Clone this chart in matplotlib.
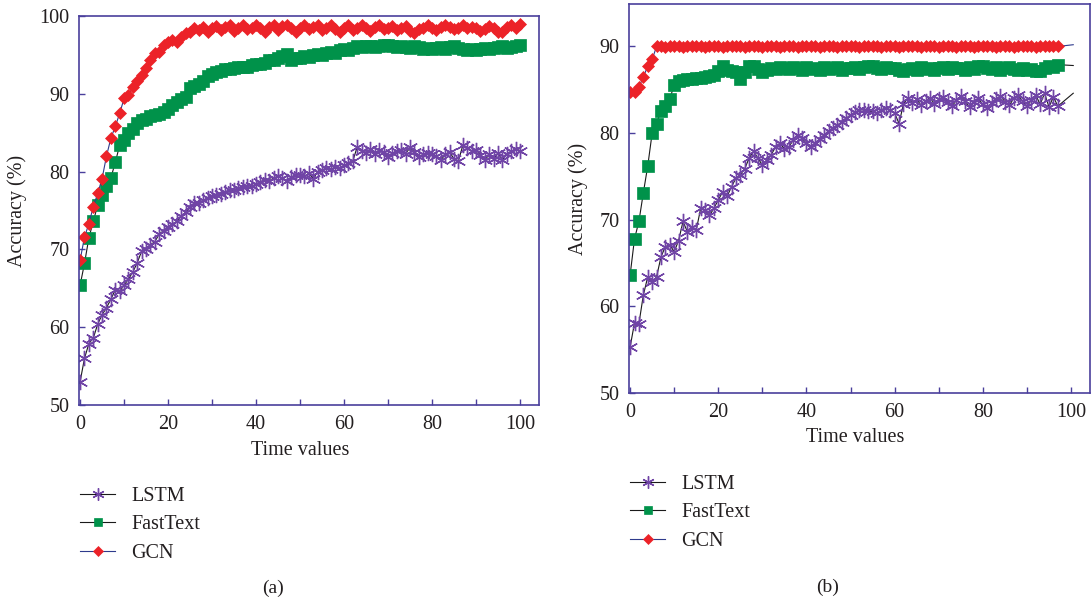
import matplotlib
matplotlib.use("Agg")
import matplotlib.pyplot as plt
from matplotlib.ticker import MultipleLocator

plt.rcParams['font.family'] = ['Liberation Serif', 'DejaVu Serif']

# ---------------- data: panel (a) ----------------
a_x = list(range(0, 101))
a_lstm = [53.0, 56.0, 57.9, 58.6, 60.4, 61.6, 62.5, 63.6, 64.8, 64.6,
          65.4, 66.2, 67.1, 68.3, 69.8, 70.1, 70.6, 71.0, 72.0, 72.4,
          72.9, 73.3, 73.6, 74.3, 74.8, 75.4, 75.9, 76.0, 76.3, 76.6,
          76.8, 77.0, 77.1, 77.4, 77.6, 77.6, 77.9, 78.0, 78.2, 78.1,
          78.4, 78.7, 78.9, 78.8, 79.2, 79.4, 79.2, 78.8, 79.3, 79.6,
          79.6, 79.4, 79.8, 79.1, 80.0, 80.2, 80.4, 80.3, 80.6, 80.5,
          80.8, 81.1, 81.4, 83.2, 82.6, 82.4, 82.9, 82.3, 82.8, 82.5,
          81.9, 82.4, 82.6, 82.8, 82.3, 83.1, 82.5, 81.9, 82.2, 82.4,
          82.3, 82.0, 81.5, 82.2, 82.5, 81.6, 81.4, 83.4, 83.0, 82.6,
          82.8, 82.1, 81.5, 82.2, 81.6, 82.4, 81.5, 82.3, 82.6, 82.9,
          82.7]
a_fasttext = [65.4, 68.2, 71.5, 73.6, 75.7, 77.0, 78.1, 79.2, 81.2, 83.4,
              84.1, 85.0, 85.5, 86.3, 86.6, 86.7, 87.1, 87.3, 87.4, 87.7,
              88.1, 88.6, 88.9, 89.3, 89.6, 90.8, 91.0, 91.2, 91.7, 92.3,
              92.6, 92.8, 92.9, 93.2, 93.2, 93.3, 93.4, 93.4, 93.5, 93.7,
              93.8, 93.8, 94.0, 94.3, 94.4, 94.6, 94.8, 95.1, 94.4, 94.6,
              94.6, 94.9, 94.7, 95.0, 95.1, 95.0, 95.2, 95.4, 95.3, 95.6,
              95.7, 95.6, 95.9, 96.1, 96.0, 96.2, 96.1, 96.0, 96.2, 96.3,
              96.3, 96.1, 96.0, 96.2, 96.0, 95.9, 96.1, 96.0, 95.8, 95.9,
              95.8, 95.9, 96.0, 95.8, 96.0, 96.1, 95.9, 95.8, 95.6, 95.7,
              95.6, 95.8, 95.9, 95.8, 95.9, 96.0, 96.1, 95.9, 96.0, 96.2,
              96.3]
a_gcn = [68.6, 71.6, 73.3, 75.5, 77.2, 79.1, 82.0, 84.3, 85.8, 87.5,
         89.4, 89.8, 90.9, 91.6, 92.4, 93.3, 94.3, 95.2, 95.4, 96.3,
         96.7, 96.9, 96.7, 97.3, 97.8, 98.0, 98.4, 98.2, 98.6, 97.9,
         98.4, 98.7, 98.2, 98.6, 98.9, 98.1, 98.5, 98.8, 98.3, 98.5,
         98.9, 98.4, 97.9, 98.6, 98.8, 98.2, 98.7, 98.9, 98.4, 97.9,
         98.5, 98.8, 98.3, 98.6, 98.9, 98.2, 98.4, 98.8, 98.3, 98.0,
         98.5, 98.8, 98.2, 98.5, 98.9, 98.4, 98.1, 98.6, 98.8, 98.3,
         98.5, 98.7, 98.2, 98.4, 98.7, 98.1, 97.8, 98.3, 98.5, 98.9,
         98.4, 98.2, 98.6, 98.9, 98.6, 98.3, 98.5, 98.8, 98.4, 98.6,
         98.5, 98.1, 98.3, 98.7, 98.5, 98.0, 97.9, 98.6, 98.8, 98.5,
         99.0]

# ---------------- data: panel (b) ----------------
b_x = list(range(0, 98)) + [100.5]
b_lstm = [55.3, 58.1, 58.0, 61.3, 63.4, 62.8, 63.4, 65.7, 66.9, 67.1,
          66.3, 67.6, 69.8, 68.6, 69.2, 68.8, 71.3, 71.1, 70.5, 71.3,
          72.3, 73.2, 72.7, 73.8, 74.8, 75.2, 75.9, 77.1, 77.9, 77.1,
          76.3, 76.9, 77.5, 78.4, 78.8, 78.2, 78.4, 79.2, 79.8, 79.4,
          78.8, 78.4, 78.9, 79.3, 79.8, 80.2, 80.6, 80.9, 81.3, 81.7,
          82.1, 82.4, 82.7, 82.7, 82.5, 82.5, 82.3, 82.7, 82.9, 82.7,
          82.3, 81.1, 83.4, 84.0, 83.5, 83.9, 83.2, 83.7, 84.1, 83.4,
          83.9, 84.2, 83.6, 83.1, 83.8, 84.3, 83.7, 83.0, 83.6, 84.0,
          83.3, 82.9, 83.5, 83.9, 84.3, 83.6, 83.2, 84.0, 84.4, 83.7,
          83.1, 83.8, 84.4, 83.3, 84.6, 83.0, 84.2, 83.1,
          84.6]
b_fasttext = [63.6, 67.8, 69.8, 73.1, 76.2, 80.0, 81.1, 82.6, 83.1, 83.9,
              85.6, 86.0, 86.1, 86.2, 86.3, 86.4, 86.4, 86.5, 86.6, 86.7,
              87.2, 87.7, 87.3, 87.2, 87.0, 86.2, 87.1, 87.7, 87.8, 87.4,
              87.1, 87.3, 87.5, 87.4, 87.6, 87.5, 87.4, 87.6, 87.5, 87.3,
              87.6, 87.4, 87.5, 87.3, 87.6, 87.4, 87.5, 87.6, 87.3, 87.5,
              87.5, 87.6, 87.4, 87.6, 87.7, 87.7, 87.5, 87.4, 87.6, 87.5,
              87.5, 87.3, 87.2, 87.4, 87.5, 87.3, 87.6, 87.4, 87.5, 87.3,
              87.5, 87.6, 87.4, 87.6, 87.5, 87.5, 87.3, 87.6, 87.4, 87.7,
              87.7, 87.5, 87.4, 87.6, 87.3, 87.5, 87.6, 87.4, 87.3, 87.5,
              87.3, 87.4, 87.2, 87.2, 87.5, 87.7, 87.6, 87.9,
              87.8]
b_gcn = [84.7, 84.8, 85.3, 86.5, 87.7, 88.5, 90.0, 90.1, 89.9, 90.0,
         90.1, 90.0, 89.9, 90.1, 90.0, 90.0, 90.1, 89.9, 90.0, 90.1,
         90.0, 89.9, 90.0, 90.1, 90.0, 90.0, 89.9, 90.1, 90.0, 90.1,
         89.9, 90.0, 90.0, 90.1, 89.9, 90.0, 90.1, 90.0, 89.9, 90.0,
         90.1, 90.0, 90.0, 89.9, 90.1, 90.0, 90.1, 89.9, 90.0, 90.0,
         90.1, 90.0, 89.9, 90.1, 90.0, 90.0, 90.1, 89.9, 90.0, 90.1,
         90.0, 89.9, 90.0, 90.1, 90.0, 90.0, 89.9, 90.1, 90.0, 90.1,
         89.9, 90.0, 90.0, 90.1, 89.9, 90.0, 90.1, 90.0, 89.9, 90.0,
         90.1, 90.0, 90.0, 89.9, 90.1, 90.0, 90.1, 89.9, 90.0, 90.0,
         90.1, 90.0, 89.9, 90.1, 90.0, 90.0, 90.1, 90.0,
         90.2]

series_names = ["LSTM", "FastText", "GCN"]
panel_labels = ["(a)", "(b)"]
x_label = "Time values"
y_label = "Accuracy (%)"

# ---------------- styling ----------------
SPINE = "#4a3f9c"
PURPLE = "#7044a6"
GREEN = "#00924a"
RED = "#ec2228"
BLUE_LINE = "#2e3a8c"
TXT = "#231f20"

fig = plt.figure(figsize=(10.92, 6.08), dpi=100)
ax_a = fig.add_axes([79/1092, 1-405/608, 460/1092, 389/608])
ax_b = fig.add_axes([629/1092, 1-393/608, 461/1092, 389/608])


def draw(ax, x, lstm, ft, gcn, ylim, n_mark):
    idx = list(range(n_mark))
    h1, = ax.plot(x, lstm, color="#1a1a1a", lw=0.8, marker=(6, 2, 0), ms=11,
                  mec=PURPLE, mfc=PURPLE, mew=1.0, markevery=idx, label=series_names[0])
    h2, = ax.plot(x, ft, color="#1a1a1a", lw=0.8, marker="s", ms=8,
                  mec=GREEN, mfc=GREEN, mew=0.5, markevery=idx, label=series_names[1])
    h3, = ax.plot(x, gcn, color=BLUE_LINE, lw=0.8, marker="D", ms=6.5,
                  mec=RED, mfc=RED, mew=0.5, markevery=idx, label=series_names[2])
    ax.set_xlim(-0.25, 104.3)
    ax.set_ylim(*ylim)
    ax.xaxis.set_major_locator(MultipleLocator(20))
    ax.xaxis.set_minor_locator(MultipleLocator(10))
    ax.yaxis.set_major_locator(MultipleLocator(10))
    for s in ax.spines.values():
        s.set_color(SPINE)
        s.set_linewidth(1.2)
    ax.tick_params(axis="both", which="both", direction="in", length=4,
                   width=1.0, color=SPINE, labelsize=14.5, labelcolor=TXT,
                   top=False, right=False, pad=7)
    ax.tick_params(axis="y", which="minor", left=False)
    ax.set_xlabel(x_label, fontsize=14.5, color=TXT)
    ax.set_ylabel(y_label, fontsize=14.5, color=TXT)
    return [h1, h2, h3]


hs_a = draw(ax_a, a_x, a_lstm, a_fasttext, a_gcn, (50, 100), len(a_x))
hs_b = draw(ax_b, b_x, b_lstm, b_fasttext, b_gcn, (50, 94.9), len(b_x) - 1)

ax_a.xaxis.set_label_coords((300-79)/460, -(441-405)/389)
ax_b.xaxis.set_label_coords((855-629)/461, -(428-393)/389)
ax_a.yaxis.set_label_coords((27-79)/460, 0.5)
ax_b.yaxis.set_label_coords((588-629)/461, 0.5)

for ax, hs, (lx, ly) in [(ax_a, hs_a, (80, 487)), (ax_b, hs_b, (630, 475))]:
    ax.legend(handles=hs, loc="upper left",
              bbox_to_anchor=(lx/1092, 1-ly/608), bbox_transform=fig.transFigure,
              frameon=False, fontsize=14.5, handlelength=1.75, handletextpad=0.8,
              labelspacing=0.46, borderpad=0, borderaxespad=0, numpoints=1,
              markerscale=0.8, labelcolor=TXT)

fig.text(273/1092, 1-588/608, panel_labels[0], ha="center", va="center",
         fontsize=14, color=TXT)
fig.text(828/1092, 1-587/608, panel_labels[1], ha="center", va="center",
         fontsize=14, color=TXT)

fig.savefig("out.png", dpi=100)
